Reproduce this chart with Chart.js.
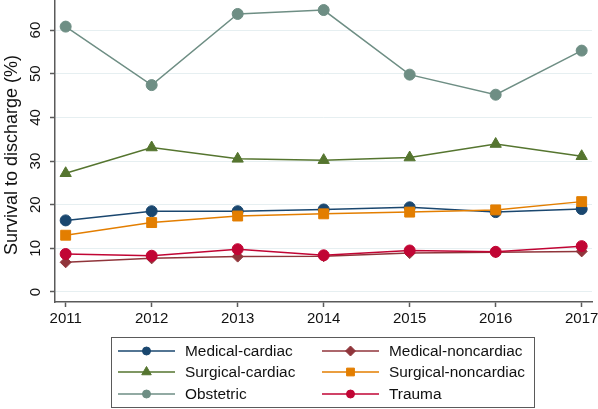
<!DOCTYPE html>
<html>
<head>
<meta charset="utf-8">
<script src="https://cdn.jsdelivr.net/npm/chart.js@4/dist/chart.umd.min.js"></script>
<style>
  html, body { margin: 0; padding: 0; background: #fff; }
  canvas { display: block; }
</style>
</head>
<body>
<canvas id="grafico" width="598" height="409"></canvas>
<script>
// ===============================
// DATA
// ===============================
const years = [2011, 2012, 2013, 2014, 2015, 2016, 2017];
const yTicks = [0, 10, 20, 30, 40, 50, 60];

const medicalCardiac     = [16.4, 18.5, 18.5, 18.9, 19.4, 18.3, 19.0];
const medicalNoncardiac  = [6.8, 7.7, 8.1, 8.2, 8.9, 9.1, 9.3];
const surgicalCardiac    = [27.2, 33.1, 30.5, 30.2, 30.8, 33.9, 31.1];
const surgicalNoncardiac = [13.0, 15.9, 17.4, 17.9, 18.3, 18.8, 20.7];
const obstetric          = [60.8, 47.4, 63.7, 64.6, 49.8, 45.2, 55.3];
const trauma             = [8.7, 8.3, 9.8, 8.4, 9.5, 9.2, 10.5];

const FONT = '"Liberation Sans", Arial, Helvetica, sans-serif';
const AXIS = '#5a5a5a';
const TEXT = '#111';

// series: label, values, colour, marker, plot radius, legend radius
const series = [
  ['Medical-cardiac', medicalCardiac, '#1a476f', 'circle', 5.5, 4],
  ['Medical-noncardiac', medicalNoncardiac, '#90353b', 'rectRot', 5.5, 5],
  ['Surgical-cardiac', surgicalCardiac, '#55752f', 'triangle', 6.5, 5.5],
  ['Surgical-noncardiac', surgicalNoncardiac, '#e37e00', 'rect', 7, 5.5],
  ['Obstetric', obstetric, '#6e8e84', 'circle', 5.5, 4],
  ['Trauma', trauma, '#c10534', 'circle', 5.5, 4]
];

const datasets = series.map(([label, vals, color, style, r, lr], i) => ({
  label,
  data: vals.map((v, k) => ({ x: years[k], y: v })),
  borderColor: color,
  backgroundColor: color,
  borderWidth: 1.5,
  pointStyle: style,
  pointRadius: r,
  pointBorderWidth: 1,
  legendRadius: lr,
  tension: 0,
  order: series.length - i   // later series drawn on top
}));

// ===============================
// LABELS, TITLE AND LEGEND
// ===============================
function marker(ctx, style, r, x, y, color) {
  ctx.fillStyle = color;
  ctx.strokeStyle = color;
  ctx.lineWidth = 1;
  if (Chart.helpers && Chart.helpers.drawPoint) {
    Chart.helpers.drawPoint(ctx, { pointStyle: style, radius: r, rotation: 0, borderWidth: 1 }, x, y);
  } else {
    ctx.beginPath(); ctx.arc(x, y, r, 0, Math.PI * 2); ctx.fill();
  }
}

const extras = {
  id: 'extras',
  afterDraw(chart) {
    const ctx = chart.ctx;
    const yScale = chart.scales.y;
    ctx.save();

    // y tick labels, vertical
    ctx.fillStyle = TEXT;
    ctx.font = '15px ' + FONT;
    ctx.textAlign = 'center';
    ctx.textBaseline = 'alphabetic';
    yTicks.forEach(v => {
      ctx.save();
      ctx.translate(39.5, yScale.getPixelForValue(v));
      ctx.rotate(-Math.PI / 2);
      ctx.fillText(String(v), 0, 0);
      ctx.restore();
    });

    // y title
    ctx.font = '18px ' + FONT;
    ctx.save();
    ctx.translate(17, 155);
    ctx.rotate(-Math.PI / 2);
    ctx.fillText('Survival to discharge (%)', 0, 0);
    ctx.restore();

    // legend box
    ctx.strokeStyle = AXIS;
    ctx.lineWidth = 1;
    ctx.strokeRect(111.5, 337.5, 423, 70);

    const rowsY = [351, 372, 394];
    const lineX = [118, 322];
    const textX = [185, 389];
    ctx.font = '15.4px ' + FONT;
    ctx.textAlign = 'left';
    ctx.textBaseline = 'middle';
    chart.data.datasets.forEach((ds, i) => {
      const col = i % 2, row = Math.floor(i / 2);
      const y = rowsY[row];
      ctx.strokeStyle = ds.borderColor;
      ctx.lineWidth = 1.5;
      ctx.beginPath();
      ctx.moveTo(lineX[col], y);
      ctx.lineTo(lineX[col] + 57, y);
      ctx.stroke();
      marker(ctx, ds.pointStyle, ds.legendRadius, lineX[col] + 28.5, y, ds.borderColor);
      ctx.fillStyle = TEXT;
      ctx.fillText(ds.label, textX[col], y + 1);
    });

    ctx.restore();
  }
};

// ===============================
// CHART
// ===============================
const canvas = document.getElementById('grafico');
new Chart(canvas, {
  type: 'line',
  data: { datasets },
  plugins: [extras],
  options: {
    responsive: false,
    animation: false,
    devicePixelRatio: 1,
    layout: { autoPadding: false, padding: { top: 0, right: 6, bottom: 0, left: 0 } },
    plugins: {
      legend: { display: false },
      tooltip: { enabled: false }
    },
    scales: {
      x: {
        type: 'linear',
        min: 2010.876,
        max: 2017.12,
        afterBuildTicks: s => { s.ticks = years.map(v => ({ value: v })); },
        afterFit: s => { s.height = 107; s.paddingLeft = 0; s.paddingRight = 0; },
        ticks: {
          color: TEXT,
          font: { family: FONT, size: 15 },
          padding: 3,
          maxRotation: 0,
          autoSkip: false,
          callback: v => String(v)
        },
        grid: {
          drawOnChartArea: false,
          color: 'rgba(0,0,0,0)',
          tickColor: AXIS,
          tickLength: 5,
          tickWidth: 1.5
        },
        border: { color: AXIS, width: 1.5 }
      },
      y: {
        min: -2.3,
        max: 66.9,
        afterBuildTicks: s => { s.ticks = yTicks.map(v => ({ value: v })); },
        afterFit: s => { s.width = 55; s.paddingTop = 0; s.paddingBottom = 0; },
        ticks: { display: false },
        grid: {
          color: '#e6eff1',
          lineWidth: 1,
          tickColor: AXIS,
          tickLength: 5,
          tickWidth: 1.5
        },
        border: { color: AXIS, width: 1.5 }
      }
    }
  }
});
</script>
</body>
</html>
